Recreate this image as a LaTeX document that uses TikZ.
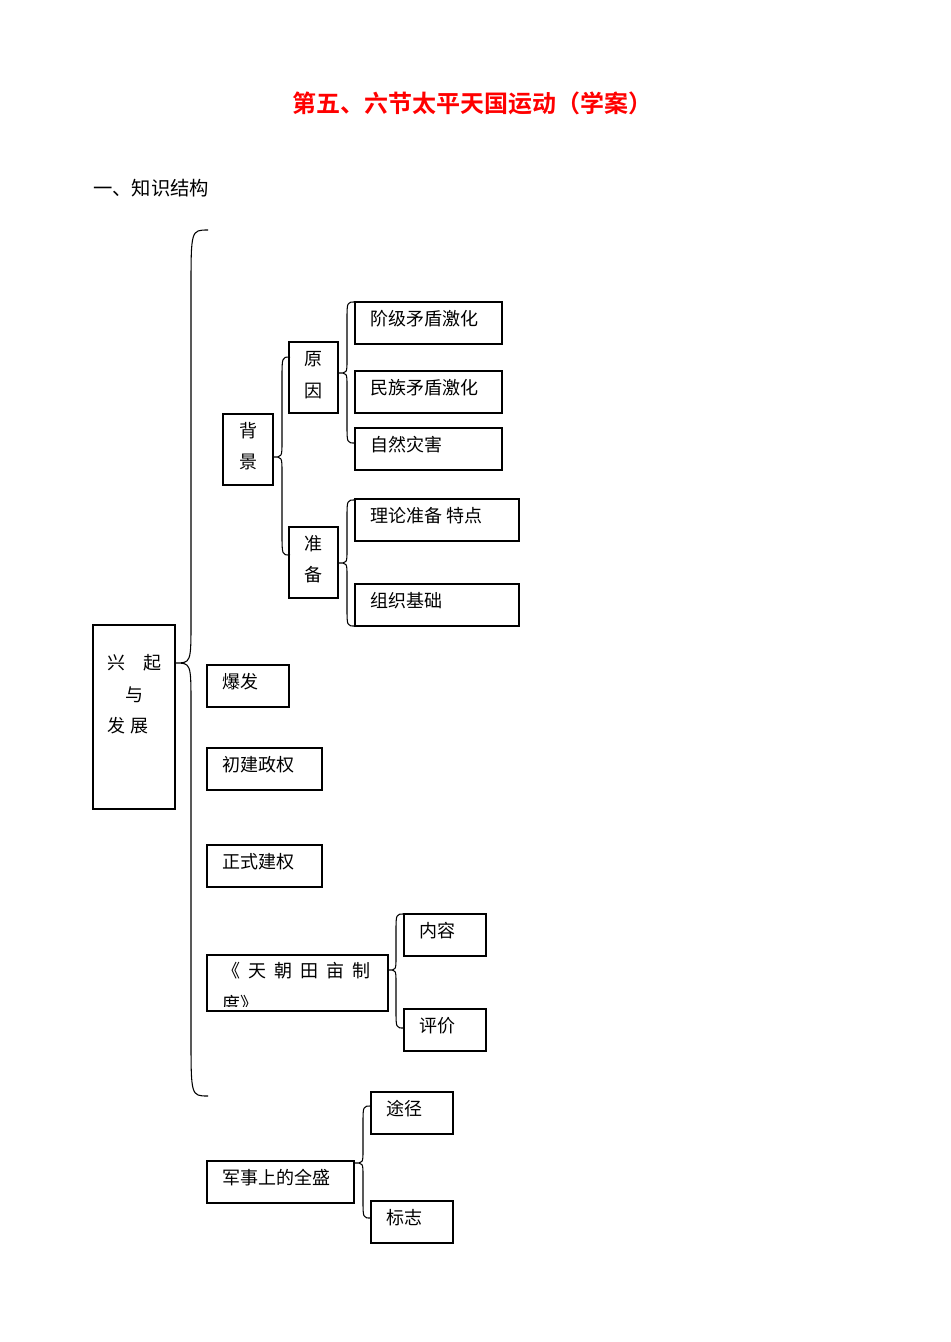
\documentclass[tikz,border=0pt]{standalone}
\usepackage{fontspec}
\newfontfamily\cjk{Noto Sans CJK SC}
\newfontfamily\cjkb{Noto Sans CJK SC Bold}
\begin{document}
\begin{tikzpicture}[x=0.75pt,y=-0.75pt,
  bx/.style={draw,line width=0.9pt},
  tx/.style={anchor=west,inner sep=0pt,font=\cjk\fontsize{13.5pt}{15pt}\selectfont},
  br/.style={draw,line width=0.8pt}]
\useasboundingbox (0,0) rectangle (950,1342);
\newcommand\mybrace[7]{% xtip ytip xs y1 y2 xend r
  \draw[br] (#6,#4) .. controls (#3,#4) .. (#3,#4+#7) -- (#3,#2-#7*0.7) .. controls (#3,#2) .. (#1,#2)
    .. controls (#3,#2) .. (#3,#2+#7*0.7) -- (#3,#5-#7) .. controls (#3,#5) .. (#6,#5);}
\newcommand\mybox[6]{% name x1 y1 x2 y2 text
  \draw[bx] (#2,#3) rectangle (#4,#5);
  \node[tx] (#1) at (#2+15,#3+17) {#6};}
\node[text=red,font=\cjkb\fontsize{18pt}{20pt}\selectfont] (title) at (472,103) {第五、六节太平天国运动（学案）};
\node[anchor=west,inner sep=0pt,font=\cjk\fontsize{14.5pt}{16pt}\selectfont] (h1) at (93,188) {一、知识结构};
% main box
\draw[bx] (93,625) rectangle (175,809);
\node[tx,anchor=center] (xq) at (134,663) {兴\quad 起};
\node[tx,anchor=center] (yu) at (134,695) {与};
\node[tx,anchor=center] (fz) at (128,726) {发 展};
\mybrace{175}{663}{191}{230}{1096}{208}{60}
% background
\draw[bx] (223,414) rectangle (273,485);
\node[tx,anchor=center] (bj1) at (248,431) {背};
\node[tx,anchor=center] (bj2) at (248,462) {景};
\mybrace{273}{457}{282}{357}{555}{290}{22}
\draw[bx] (289,342) rectangle (338,413);
\node[tx,anchor=center] (yy1) at (313,359) {原};
\node[tx,anchor=center] (yy2) at (313,391) {因};
\draw[bx] (289,527) rectangle (338,598);
\node[tx,anchor=center] (zb1) at (313,544) {准};
\node[tx,anchor=center] (zb2) at (313,575) {备};
\mybrace{338}{373}{347}{302}{443}{355}{18}
\mybox{a1}{355}{302}{502}{344}{阶级矛盾激化}
\mybox{a2}{355}{371}{502}{413}{民族矛盾激化}
\mybox{a3}{355}{428}{502}{470}{自然灾害}
\mybrace{338}{563}{347}{500}{626}{355}{18}
\mybox{b1}{355}{499}{519}{541}{理论准备 特点}
\mybox{b2}{355}{584}{519}{626}{组织基础}
\mybox{c1}{207}{665}{289}{707}{爆发}
\mybox{c2}{207}{748}{322}{790}{初建政权}
\mybox{c3}{207}{845}{322}{887}{正式建权}
% tianchao
\draw[bx] (207,955) rectangle (388,1011);
\node[tx] (tc) at (222,971) {《\hspace{0.45em}天\hspace{0.45em}朝\hspace{0.45em}田\hspace{0.45em}亩\hspace{0.45em}制};
\begin{scope}
\clip (207,955) rectangle (388,1006);
\node[tx] (tc2) at (222,1004) {度》};
\end{scope}
\mybrace{388}{970}{396}{914}{1028}{404}{18}
\mybox{d1}{404}{914}{486}{956}{内容}
\mybox{d2}{404}{1009}{486}{1051}{评价}
\mybox{e0}{207}{1161}{354}{1203}{军事上的全盛}
\mybrace{354}{1163}{363}{1106}{1218}{371}{18}
\mybox{e1}{371}{1092}{453}{1134}{途径}
\mybox{e2}{371}{1201}{453}{1243}{标志}
\end{tikzpicture}
\end{document}
